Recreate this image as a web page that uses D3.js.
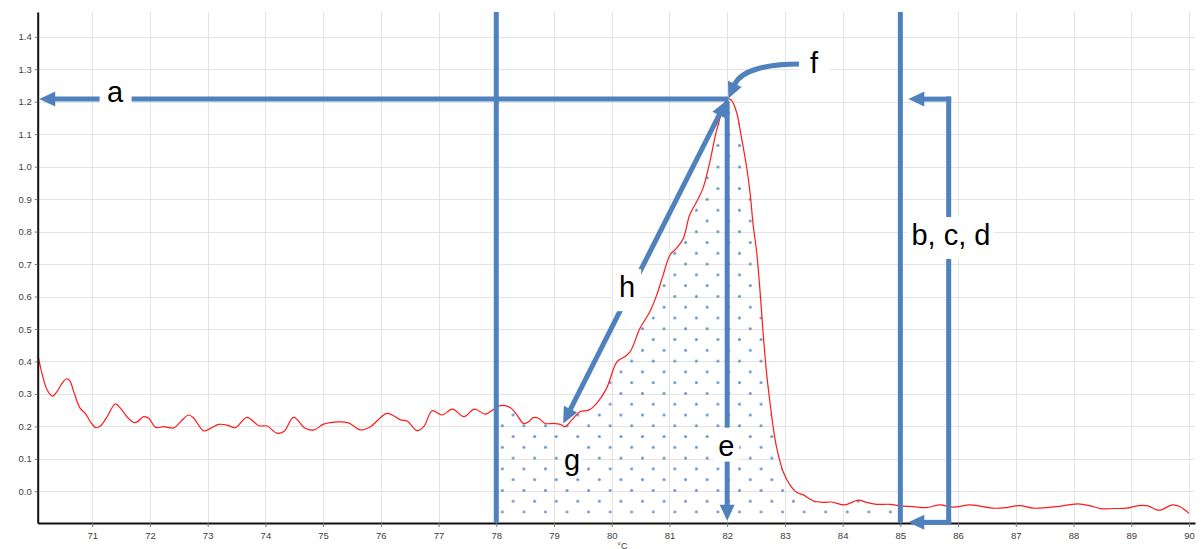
<!DOCTYPE html>
<html>
<head>
<meta charset="utf-8">
<script src="https://cdn.jsdelivr.net/npm/d3@7"></script>
<style>
  html, body { margin: 0; padding: 0; background: #ffffff; }
  svg { display: block; }
</style>
</head>
<body>
<div id="chart"></div>
<script>
// Melt curve: derivative signal vs temperature (°C)
const temps = [
  70.06, 70.13, 70.22, 70.31, 70.39, 70.48, 70.55, 70.61, 70.68, 70.79, 70.88, 70.97,
  71.06, 71.14, 71.26, 71.40, 71.49, 71.61, 71.72, 71.78, 71.89, 71.98,
  72.10, 72.24, 72.41, 72.53, 72.67, 72.76, 72.93,
  73.05, 73.19, 73.34, 73.48, 73.68, 73.89,
  74.03, 74.20, 74.32, 74.49, 74.69, 74.84,
  75.01, 75.27, 75.44, 75.65, 75.82,
  76.11, 76.34, 76.46, 76.63, 76.75, 76.89,
  77.06, 77.24, 77.44, 77.62, 77.81, 77.96,
  78.07, 78.24, 78.36, 78.47, 78.56, 78.64, 78.73, 78.85, 78.99,
  79.11, 79.19, 79.31, 79.45, 79.60, 79.74, 79.91,
  80.09, 80.23, 80.32, 80.49, 80.66, 80.78, 80.89,
  81.01, 81.12, 81.24, 81.35, 81.47, 81.58, 81.70, 81.81, 81.93,
  82.00, 82.07, 82.16, 82.25, 82.34, 82.40, 82.45, 82.51, 82.57, 82.62, 82.68, 82.74, 82.80, 82.86, 82.97,
  83.09, 83.20, 83.32, 83.49, 83.67, 83.81,
  84.04, 84.27, 84.42, 84.59, 84.82,
  85.00, 85.22, 85.45, 85.69, 85.92,
  86.21, 86.61, 86.84,
  87.07, 87.30, 87.53, 87.71,
  88.08, 88.29, 88.49, 88.69, 88.92,
  89.12, 89.29, 89.44, 89.52, 89.71, 89.84, 90.00
];
const values = [
  0.420, 0.363, 0.312, 0.293, 0.307, 0.333, 0.346, 0.341, 0.307, 0.256, 0.240, 0.214,
  0.196, 0.201, 0.230, 0.269, 0.256, 0.228, 0.212, 0.214, 0.230, 0.225,
  0.197, 0.199, 0.195, 0.214, 0.235, 0.225, 0.186,
  0.194, 0.206, 0.204, 0.196, 0.228, 0.202,
  0.201, 0.179, 0.184, 0.228, 0.194, 0.189,
  0.207, 0.214, 0.211, 0.189, 0.199,
  0.240, 0.220, 0.216, 0.187, 0.201, 0.248,
  0.235, 0.253, 0.230, 0.253, 0.238, 0.253,
  0.264, 0.258, 0.235, 0.209, 0.214, 0.227, 0.225, 0.209, 0.209,
  0.206, 0.199, 0.220, 0.245, 0.250, 0.271, 0.317,
  0.399, 0.415, 0.430, 0.502, 0.553, 0.605, 0.666,
  0.728, 0.748, 0.779, 0.851, 0.892, 0.933, 1.015, 1.107, 1.180,
  1.208, 1.205, 1.169, 1.087, 0.995, 0.913, 0.820, 0.738, 0.615, 0.492, 0.368, 0.276, 0.194, 0.132, 0.060,
  0.019, -0.003, -0.011, -0.029, -0.034, -0.033,
  -0.042, -0.027, -0.034, -0.040, -0.040,
  -0.045, -0.047, -0.050, -0.042, -0.049,
  -0.042, -0.052, -0.050,
  -0.044, -0.052, -0.050, -0.047,
  -0.039, -0.045, -0.054, -0.053, -0.052,
  -0.044, -0.045, -0.057, -0.057, -0.042, -0.047, -0.068
];

const xTicks = d3.range(71, 91);
const yTicks = d3.range(0, 15).map(i => i / 10);
const xTitle = "°C";

// Shaded peak region and its boundaries
const regionStart = 78;
const regionEnd = 85;
const regionBase = -0.068;

// Peak (Tm, maximum height)
const peakT = 82.0;
const peakV = 1.208;

// Annotation arrows, in chart units
const hArrow = { from: [79.16, 0.209], to: [81.985, 1.203] };
const fArrow = { start: [83.262, 1.316], c1: [82.708, 1.316], c2: [82.240, 1.298], tip: [82.02, 1.21] };
const bracketT = 85.837;
const bracketTipT = 85.138;
const aTipT = 70.082;
const eTipV = -0.091;

// Annotation labels: text, temperature (centre), value (baseline), box padding
const labels = [
  { text: "a", t: 71.398, v: 1.199, px: 7.5, pt: 0, pb: 0 },
  { text: "f", t: 83.504, v: 1.287, px: 11, pt: 0, pb: 0 },
  { text: "b, c, d", t: 85.877, v: 0.7586, px: 4, pt: 2, pb: 8 },
  { text: "h", t: 80.266, v: 0.598, px: 6, pt: 2, pb: 8 },
  { text: "e", t: 81.985, v: 0.110, px: 5, pt: 2, pb: 0 },
  { text: "g", t: 79.313, v: 0.066, px: 2, pt: -2, pb: -2 }
];

const W = 1201, H = 549;
const blue = "#4f81bd";
const font = "'Liberation Sans', Arial, sans-serif";

const svg = d3.select("#chart").append("svg")
  .attr("width", W).attr("height", H)
  .style("font-family", font);

const x = d3.scaleLinear().domain([70.056, 90.104]).range([37.7, 1195]);
const y = d3.scaleLinear().domain([-0.0976, 1.4763]).range([523, 12]);

const pts = temps.map((t, i) => ({ t, v: values[i] }));

// Grid
const grid = svg.append("g").attr("stroke", "#e4e4e4").attr("stroke-width", 1);
grid.selectAll("line.v").data(xTicks).join("line")
  .attr("x1", d => Math.round(x(d)) + 0.5).attr("x2", d => Math.round(x(d)) + 0.5)
  .attr("y1", y.range()[1]).attr("y2", y.range()[0]);
grid.selectAll("line.h").data(yTicks).join("line")
  .attr("y1", d => Math.round(y(d)) + 0.5).attr("y2", d => Math.round(y(d)) + 0.5)
  .attr("x1", x.range()[0]).attr("x2", x.range()[1]);

// Dotted fill pattern
const defs = svg.append("defs");
const cell = 21.56;
const pat = defs.append("pattern")
  .attr("id", "dots")
  .attr("patternUnits", "userSpaceOnUse")
  .attr("x", 496.95).attr("y", 420.35)
  .attr("width", cell).attr("height", cell);
pat.append("circle").attr("cx", cell / 4).attr("cy", cell / 4).attr("r", 1.5).attr("fill", "#4f81bd").attr("fill-opacity", 0.85);
pat.append("circle").attr("cx", cell * 3 / 4).attr("cy", cell * 3 / 4).attr("r", 1.5).attr("fill", "#4f81bd").attr("fill-opacity", 0.85);

defs.append("clipPath").attr("id", "regionClip")
  .append("rect")
  .attr("x", x(regionStart)).attr("y", 0)
  .attr("width", x(regionEnd) - x(regionStart)).attr("height", H);

const curve = d3.curveCatmullRom.alpha(0.5);

svg.append("path")
  .datum(pts)
  .attr("clip-path", "url(#regionClip)")
  .attr("fill", "url(#dots)")
  .attr("d", d3.area().curve(curve)
    .x(d => x(d.t)).y0(y(regionBase)).y1(d => y(d.v)));

// Melt curve
svg.append("path")
  .datum(pts)
  .attr("fill", "none")
  .attr("stroke", "#ff1a1a")
  .attr("stroke-width", 1.2)
  .attr("d", d3.line().curve(curve).x(d => x(d.t)).y(d => y(d.v)));

// Axes
const yAxis = svg.append("g")
  .attr("transform", `translate(${x.range()[0]},0)`)
  .call(d3.axisLeft(y).tickValues(yTicks).tickFormat(d3.format(".1f")).tickSize(3).tickSizeOuter(0).tickPadding(3));
const xAxis = svg.append("g")
  .attr("transform", `translate(0,${y.range()[0]})`)
  .call(d3.axisBottom(x).tickValues(xTicks).tickFormat(d3.format("d")).tickSize(4).tickSizeOuter(0).tickPadding(5));
[yAxis, xAxis].forEach(g => {
  g.select(".domain").attr("stroke", "#111").attr("stroke-width", 2);
  g.selectAll(".tick line").attr("stroke", "#777");
  g.selectAll(".tick text").attr("fill", "#404040").style("font-size", "9.5px").style("font-family", font);
});

// Axis unit, just right of the centre of the temperature axis
svg.append("text")
  .attr("x", (x.range()[0] + x.range()[1]) / 2 + 1)
  .attr("y", 548.5)
  .attr("text-anchor", "start")
  .attr("fill", "#404040")
  .style("font-size", "9px")
  .text(xTitle);

// Annotation drawing helpers
const ann = svg.append("g");
const HEAD_L = 16, HEAD_W = 7.5, SW = 5;

function head(tip, from) {
  const dx = tip[0] - from[0], dy = tip[1] - from[1];
  const len = Math.hypot(dx, dy);
  const ux = dx / len, uy = dy / len;
  const base = [tip[0] - ux * HEAD_L, tip[1] - uy * HEAD_L];
  ann.append("polygon")
    .attr("points", [
      tip,
      [base[0] - uy * HEAD_W, base[1] + ux * HEAD_W],
      [base[0] + uy * HEAD_W, base[1] - ux * HEAD_W]
    ].map(p => p.join(",")).join(" "))
    .attr("fill", blue);
  return [base[0] + ux * 1, base[1] + uy * 1];
}
function seg(a, b) {
  ann.append("line")
    .attr("x1", a[0]).attr("y1", a[1]).attr("x2", b[0]).attr("y2", b[1])
    .attr("stroke", blue).attr("stroke-width", SW);
}
const P = (t, v) => [x(t), y(v)];

// Region boundaries
[regionStart, regionEnd].forEach(t => seg(P(t, y.domain()[1]), P(t, y.domain()[0])));

// a: peak height to the value axis
{
  const from = P(peakT + 0.02, peakV), tip = P(aTipT, peakV);
  seg(from, head(tip, from));
}
// e: peak temperature down to the temperature axis
{
  const from = P(peakT, peakV - 0.005), tip = P(peakT, eTipV);
  seg(from, head(tip, from));
}
// h: double-headed arrow along the rising flank
{
  const a = P(...hArrow.from), b = P(...hArrow.to);
  seg(head(a, b), head(b, a));
}
// b, c, d: bracket with arrows onto the region end line
{
  const top = P(bracketT, peakV), bot = P(bracketT, y.domain()[0] + 0.002);
  seg([top[0], top[1] - SW / 2], [bot[0], bot[1] + SW / 2]);
  const tTip = P(bracketTipT, peakV), bTip = P(bracketTipT, y.domain()[0] + 0.002);
  seg([top[0] + SW / 2, top[1]], head(tTip, top));
  seg([bot[0] + SW / 2, bot[1]], head(bTip, bot));
}
// f: curved pointer to the peak apex
{
  const s = P(...fArrow.start), c1 = P(...fArrow.c1), c2 = P(...fArrow.c2), tip = P(...fArrow.tip);
  const base = head(tip, c2);
  ann.append("path")
    .attr("d", `M${s}C${c1} ${c2} ${base}`)
    .attr("fill", "none").attr("stroke", blue).attr("stroke-width", SW);
}

// Labels on white boxes
labels.forEach(l => {
  const g = svg.append("g");
  const rect = g.append("rect").attr("fill", "#ffffff");
  const txt = g.append("text")
    .attr("x", x(l.t)).attr("y", y(l.v))
    .attr("text-anchor", "middle")
    .attr("fill", "#000")
    .style("font-size", "29px")
    .text(l.text);
  const bb = txt.node().getBBox();
  rect.attr("x", bb.x - l.px).attr("y", bb.y - l.pt)
    .attr("width", bb.width + 2 * l.px).attr("height", bb.height + l.pt + l.pb);
});
</script>
</body>
</html>
